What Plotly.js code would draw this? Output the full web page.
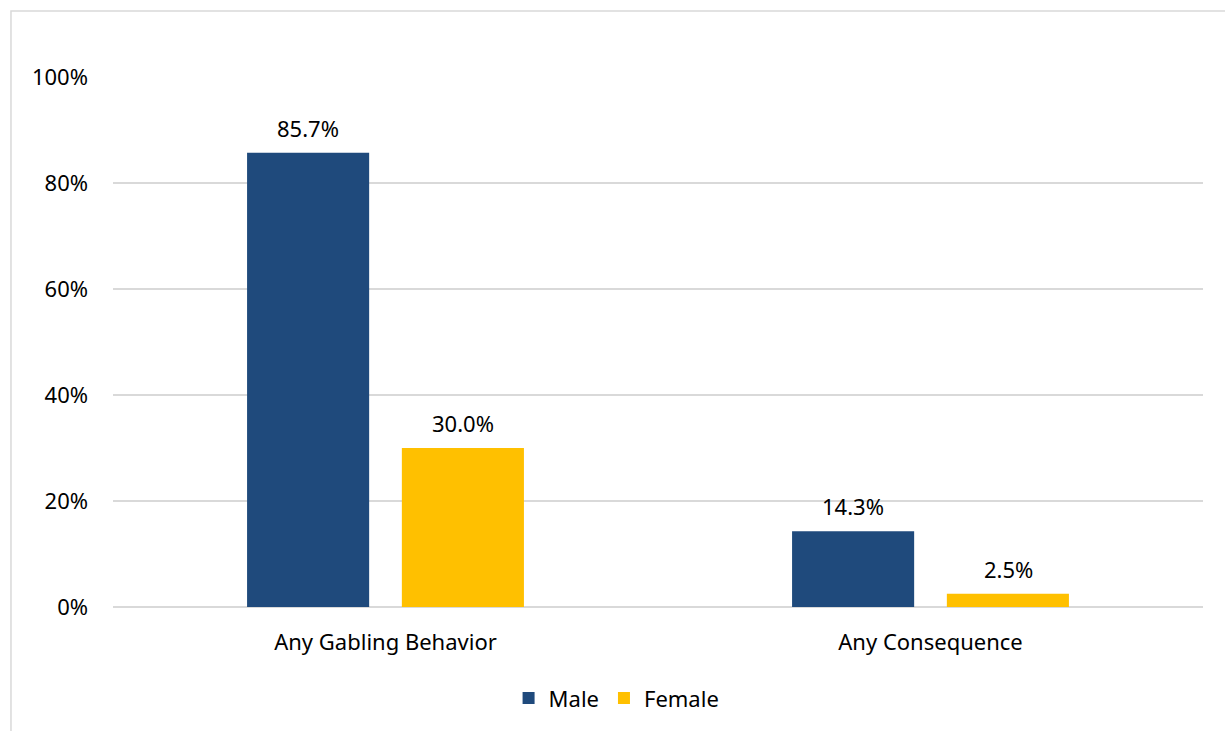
<!DOCTYPE html>
<html>
<head>
<meta charset="utf-8">
<script src="https://cdn.plot.ly/plotly-3.0.1.min.js"></script>
<style>html,body{margin:0;padding:0;background:#fff;}#chart{width:1225px;height:731px;}</style>
</head>
<body>
<div id="chart"></div>
<script>
const categories = ["Any Gabling Behavior", "Any Consequence"];
const maleValues = [85.7, 14.3];
const femaleValues = [30.0, 2.5];
const seriesNames = ["Male", "Female"];
const yTickVals = [0, 20, 40, 60, 80, 100];
const yTickText = ["0%", "20%", "40%", "60%", "80%", "100%"];

const FONT = "'Noto Sans', sans-serif";
const colors = ["#1F4A7C", "#FFC000"];
const barWidth = 0.224;
const barOffsets = [-0.254, 0.030];

const traces = [maleValues, femaleValues].map((vals, i) => ({
  type: "bar",
  name: seriesNames[i],
  x: categories,
  y: vals,
  width: barWidth,
  offset: barOffsets[i],
  marker: { color: colors[i] },
  hoverinfo: "skip"
}));

const annotations = [];
[maleValues, femaleValues].forEach((vals, i) => {
  vals.forEach((v, j) => {
    annotations.push({
      x: categories[j], y: v, xref: "x", yref: "y",
      xshift: (i === 0 ? -77.5 : 77.5),
      yshift: 25,
      text: v.toFixed(1) + "%",
      showarrow: false,
      font: { family: FONT, size: 22, color: "#000" }
    });
  });
});

const layout = {
  width: 1225, height: 731,
  margin: { l: 113, r: 22, t: 77, b: 124 },
  paper_bgcolor: "#fff", plot_bgcolor: "#fff",
  barmode: "overlay",
  font: { family: FONT, size: 22, color: "#000" },
  showlegend: true,
  legend: {
    orientation: "h", x: 0.462, xanchor: "center", y: -0.172, yanchor: "middle",
    font: { family: FONT, size: 22, color: "#000" },
    itemwidth: 30, traceorder: "normal"
  },
  xaxis: {
    type: "category",
    showgrid: false, showline: false, zeroline: false,
    ticks: "", ticklabelstandoff: 20,
    tickfont: { family: FONT, size: 22, color: "#000" }
  },
  yaxis: {
    range: [0, 100], fixedrange: true,
    tickvals: yTickVals, ticktext: yTickText,
    showgrid: true, gridcolor: "#D9D9D9", gridwidth: 1.5,
    zeroline: true, zerolinecolor: "#D9D9D9", zerolinewidth: 1.5,
    showline: false, ticks: "", ticklabelstandoff: 24,
    tickfont: { family: FONT, size: 22, color: "#000" }
  },
  shapes: [{
    type: "rect", xref: "paper", yref: "paper",
    x0: -0.0936, x1: 1.03, y0: -0.25, y1: 1.1245,
    line: { color: "#D9D9D9", width: 1.5 }, fillcolor: "rgba(0,0,0,0)", layer: "below"
  }],
  annotations: annotations
};

Plotly.newPlot("chart", traces, layout, { displayModeBar: false, staticPlot: true });
</script>
</body>
</html>
